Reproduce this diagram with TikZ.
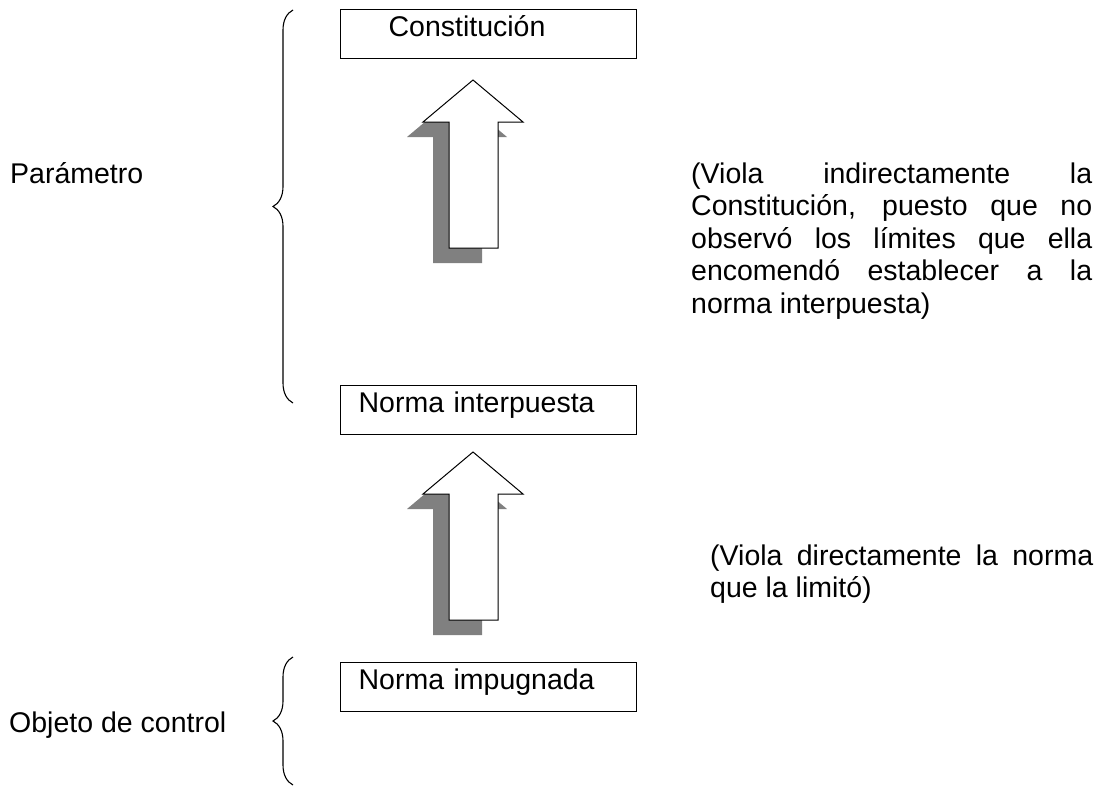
\documentclass[tikz,border=0pt]{standalone}
\usepackage{fontspec}
\setmainfont{Liberation Sans}
\usetikzlibrary{decorations.pathreplacing}

\definecolor{shadowgray}{HTML}{808080}
\hyphenpenalty=10000
\exhyphenpenalty=10000
\tolerance=10000

\tikzset{
  normbox/.style={draw, line width=1.2pt, anchor=north west, minimum width=296pt,
    text width=260pt, inner xsep=18pt, inner ysep=0pt, text height=27pt,
    text depth=22pt, align=left},
  curly/.style={decorate, decoration={brace, amplitude=20pt}, line width=1.1pt},
  sidelabel/.style={anchor=base west, inner sep=0pt},
  note/.style={anchor=base west, inner sep=0pt, align=justify},
}

\begin{document}
\begin{tikzpicture}[x=1pt, y=-1pt, font=\fontsize{28.5pt}{32.5pt}\selectfont]
  \useasboundingbox (0,0) rectangle (1104,787);

  % The three norms
  \node[normbox] (const) at (340,9) {\hspace*{30pt}Constitución};
  \node[normbox] (interp) at (340,385) {Norma interpuesta};
  \node[normbox] (impug) at (340,662) {Norma impugnada};

  % Block arrows with their shadows
  \foreach \t in {80,452} {
    \fill[shadowgray, shift={(-16,15)}] (473,\t) -- (523,\t+42) -- (498,\t+42)
      -- (498,\t+168) -- (449,\t+168) -- (449,\t+42) -- (423,\t+42) -- cycle;
    \filldraw[fill=white, line width=1pt] (473,\t) -- (523,\t+42) -- (498,\t+42)
      -- (498,\t+168) -- (449,\t+168) -- (449,\t+42) -- (423,\t+42) -- cycle;
  }

  % Braces on the left
  \draw[curly] (293,403) -- (293,10);
  \draw[curly] (293,785) -- (293,657);

  \node[sidelabel] (param) at (10,183) {Parámetro};
  \node[sidelabel] (objeto) at (9,732) {Objeto de control};

  % Notes on the right
  \node[note, text width=401pt] (nota1) at (691,183) {(Viola indirectamente la
    Constitución, puesto que no observó los límites que ella encomendó establecer
    a la norma interpuesta)};
  \node[note, text width=383pt] (nota2) at (710,565) {(Viola directamente la norma
    que la limitó)};

\end{tikzpicture}
\end{document}
